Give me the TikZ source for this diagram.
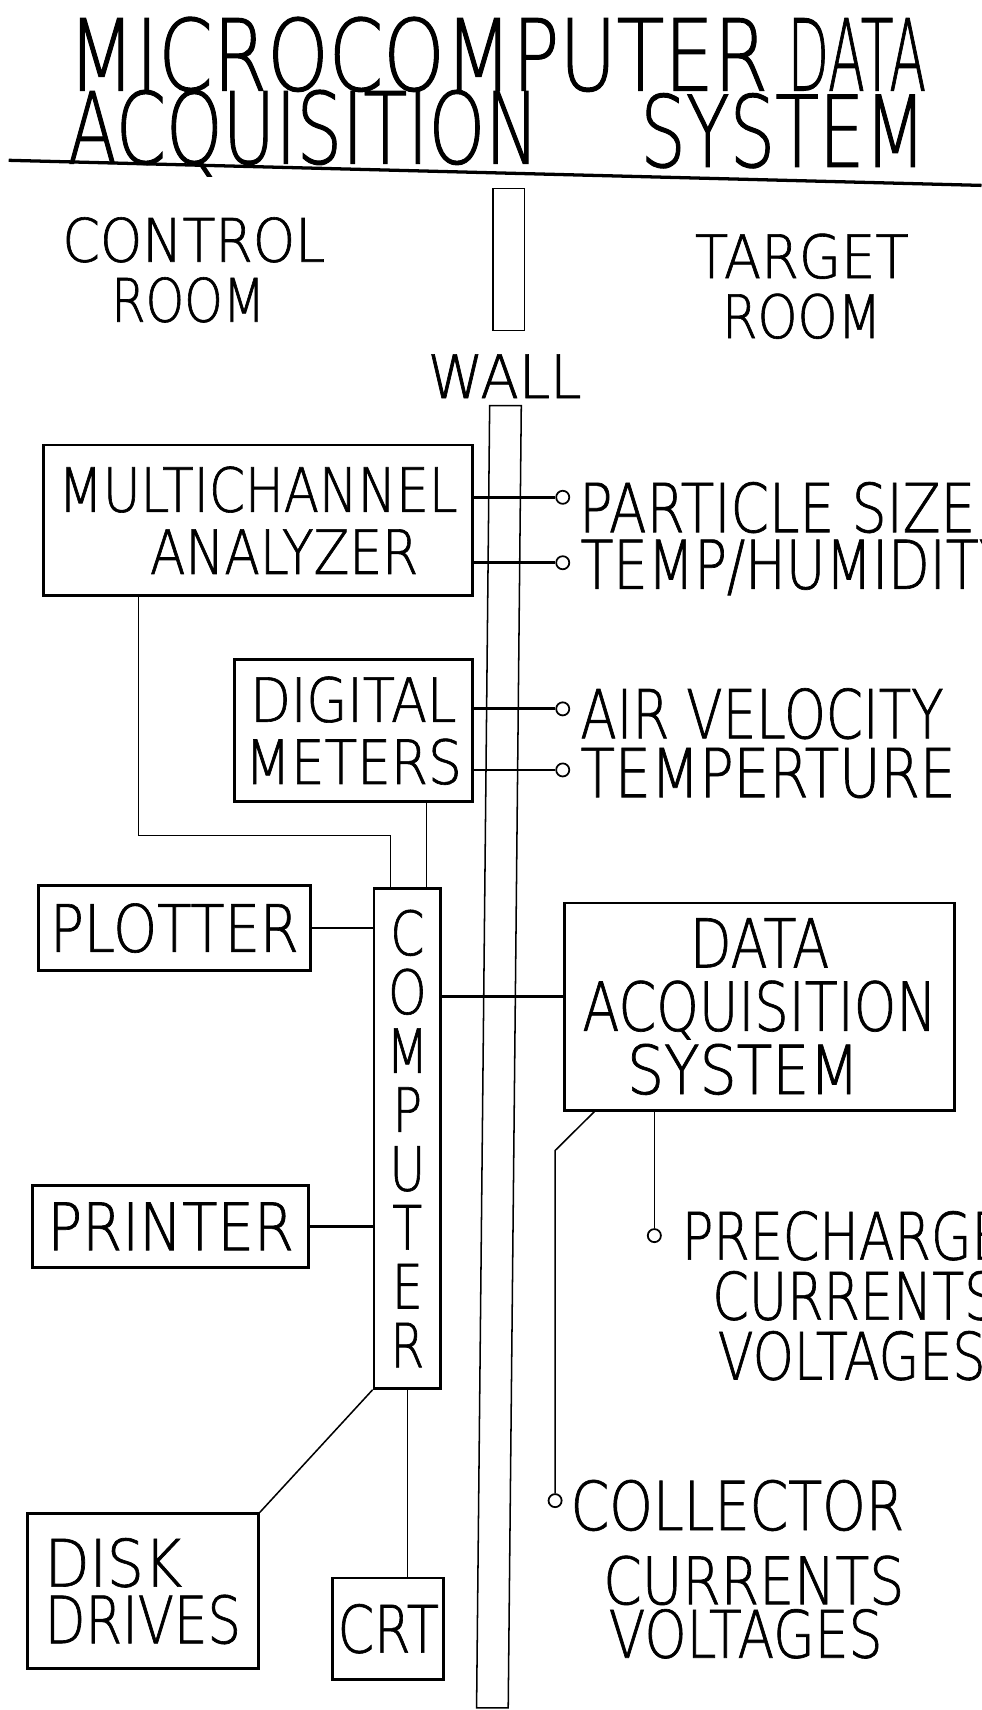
\documentclass[tikz,border=0pt]{standalone}
\usepackage{fontspec}
\usepackage{graphicx}
\newfontfamily\lf{DejaVu Sans ExtraLight}[FakeStretch=0.8,FakeBold=1]
\usetikzlibrary{calc}
\newcommand\fsz[2]{\fontsize{#1bp}{#2bp}\selectfont}
\newcommand\rw[2]{\resizebox{#1bp}{\height}{#2}}
\begin{document}
\begin{tikzpicture}[x=1bp,y=-1bp,
  box/.style={draw,line width=2.6bp,inner sep=0pt,align=center,font=\lf\fsz{56}{57}},
  lbl/.style={anchor=base west,inner sep=0pt,font=\lf\fsz{62}{62}},
  ttl/.style={anchor=base west,inner sep=0pt,font=\lf\fsz{91}{91}},
  rm/.style={anchor=base west,inner sep=0pt,font=\lf\fsz{55}{55}},
  pin/.style={circle,draw,line width=1.6bp,minimum size=12bp,inner sep=0pt},
  conn/.style={line width=2.6bp},
  thinl/.style={line width=1.4bp}]
\useasboundingbox (0,0) rectangle (900,1568);

% title
\node[ttl] (t1a) at (62,83) {\rw{642}{MICROCOMPUTER}};
\node[ttl] (t1b) at (722,83) {\rw{127}{DATA}};
\node[ttl] (t2a) at (62,150) {\rw{432}{ACQUISITION}};
\node[ttl] (t2b) at (587,153) {\rw{262}{SYSTEM}};
\draw[line width=3bp] (8,147) -- (900,170);

% rooms
\node[rm] (cr1) at (57,240) {\rw{241}{CONTROL}};
\node[rm] (cr2) at (102,295) {\rw{141}{ROOM}};
\node[rm] (tr1) at (637,255) {\rw{196}{TARGET}};
\node[rm] (tr2) at (662,310) {\rw{146}{ROOM}};
\node[rm] (wl) at (392,365) {\rw{141}{WALL}};

% wall
\draw[thinl] (452,173) rectangle (481,303);
\draw[thinl] (449,372) -- (478,372) -- (466,1566) -- (437,1566) -- cycle;

% boxes
\node[box,minimum width=393bp,minimum height=138bp] (mca) at (236.5,477) {\rw{366}{MULTICHANNEL}\\\hspace*{48bp}\rw{246}{ANALYZER}};
\node[box,minimum width=218bp,minimum height=130bp] (dm) at (324,670) {\rw{189}{DIGITAL}\\\rw{199}{METERS}};
\node[box,minimum width=250bp,minimum height=78bp,font=\lf\fsz{60}{60}] (plot) at (160,851) {\rw{228}{PLOTTER}};
\node[box,minimum width=253bp,minimum height=75bp,font=\lf\fsz{60}{60}] (prn) at (156.5,1124.5) {\rw{226}{PRINTER}};
\node[box,minimum width=61bp,minimum height=458bp,font=\lf\fsz{56}{54}] (comp) at (373.5,1044) {C\\O\\M\\P\\U\\T\\E\\R};
\node[box,minimum width=357bp,minimum height=190bp,font=\lf\fsz{62}{58}] (das) at (696.5,923) {DATA\\ACQUISITION\\\rw{213}{SYSTEM}\hspace*{30bp}};
\node[box,minimum width=212bp,minimum height=142bp,align=left,font=\lf\fsz{60}{52}] (disk) at (131,1459) {\rw{126}{DISK}\\\rw{180}{DRIVES}};
\node[box,minimum width=102bp,minimum height=93bp,font=\lf\fsz{60}{60}] (crt) at (356,1493.5) {CRT};

% pins and labels
\node[pin] (p1) at (516,456) {};
\node[pin] (p2) at (516,516) {};
\node[pin] (p3) at (516,650) {};
\node[pin] (p4) at (516,706) {};
\node[pin] (p5) at (600,1133) {};
\node[pin] (p6) at (509,1376) {};
\node[lbl] (l1) at (531,488) {\rw{363}{PARTICLE SIZE}};
\node[lbl] (l2) at (532,540) {TEMP/HUMIDITY};
\node[lbl] (l3) at (532,677) {\rw{333}{AIR VELOCITY}};
\node[lbl] (l4) at (532,731) {\rw{344}{TEMPERTURE}};
\node[lbl,font=\lf\fsz{60}{60}] (l5) at (625,1155) {PRECHARGE};
\node[lbl,font=\lf\fsz{60}{60}] (l6) at (653,1210) {CURRENTS};
\node[lbl,font=\lf\fsz{60}{60}] (l7) at (658,1265) {VOLTAGES};
\node[lbl,font=\lf\fsz{62}{62}] (l8) at (523,1403) {\rw{306}{COLLECTOR}};
\node[lbl,font=\lf\fsz{60}{60}] (l9) at (553,1471) {\rw{276}{CURRENTS}};
\node[lbl,font=\lf\fsz{60}{60}] (l10) at (558,1520) {\rw{251}{VOLTAGES}};

% connectors
\draw[conn] (mca.east |- p1) -- (p1);
\draw[conn] (mca.east |- p2) -- (p2);
\draw[conn] (dm.east |- p3) -- (p3);
\draw[conn] (dm.east |- p4) -- (p4);
\coordinate (k1) at (127,766);
\coordinate (k2) at (358,766);
\draw[thinl] (mca.south -| k1) -- (k1) -- (k2) -- (comp.north -| k2);
\coordinate (k3) at (391,780);
\draw[thinl] (dm.south -| k3) -- (comp.north -| k3);
\draw[conn] (plot.east) -- (comp.west |- plot.east);
\draw[conn] (prn.east) -- (comp.west |- prn.east);
\coordinate (k4) at (450,914);
\draw[conn] (comp.east |- k4) -- (das.west |- k4);
\coordinate (k5) at (545,1000);
\coordinate (k6) at (509,1055);
\draw[thinl] (das.south -| k5) -- (k6) -- (p6.north);
\draw[thinl] (das.south -| p5) -- (p5.north);
\draw[thinl] (comp.south west) -- (disk.north east);
\draw[thinl] (comp.south) -- (crt.north -| comp.south);
\end{tikzpicture}
\end{document}
